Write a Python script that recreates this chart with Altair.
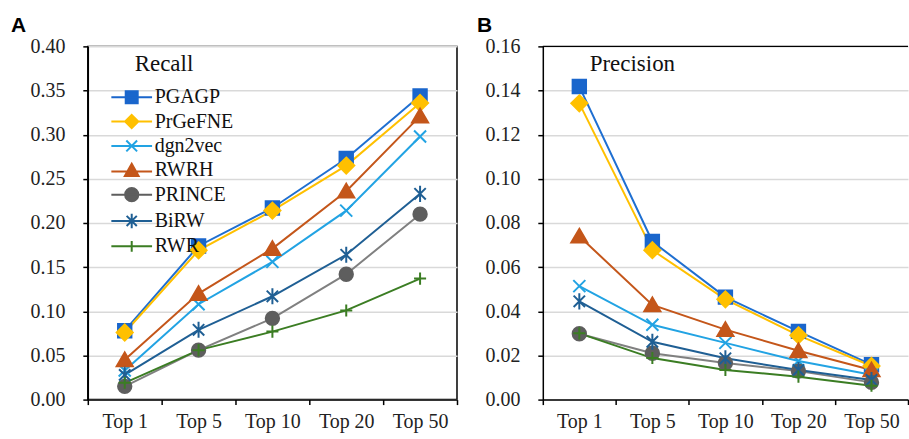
import altair as alt
import pandas as pd

categories = ["Top 1", "Top 5", "Top 10", "Top 20", "Top 50"]
methods = ["PGAGP", "PrGeFNE", "dgn2vec", "RWRH", "PRINCE", "BiRW", "RWR"]

# Recall (panel A)
recall_pgagp = [0.078, 0.174, 0.217, 0.273, 0.344]
recall_prgefne = [0.076, 0.169, 0.214, 0.265, 0.336]
recall_dgn2vec = [0.033, 0.108, 0.156, 0.214, 0.298]
recall_rwrh = [0.045, 0.120, 0.171, 0.236, 0.321]
recall_prince = [0.015, 0.056, 0.092, 0.142, 0.210]
recall_birw = [0.028, 0.079, 0.117, 0.164, 0.233]
recall_rwr = [0.019, 0.056, 0.077, 0.101, 0.137]

# Precision (panel B)
precision_pgagp = [0.1418, 0.0716, 0.0464, 0.0309, 0.0158]
precision_prgefne = [0.1342, 0.0677, 0.0454, 0.0291, 0.0152]
precision_dgn2vec = [0.0514, 0.0339, 0.0257, 0.0175, 0.0113]
precision_rwrh = [0.0740, 0.0429, 0.0317, 0.0221, 0.0134]
precision_prince = [0.0298, 0.0210, 0.0166, 0.0129, 0.0078]
precision_birw = [0.0445, 0.0262, 0.0187, 0.0134, 0.0089]
precision_rwr = [0.0300, 0.0188, 0.0134, 0.0104, 0.0063]

line_colors = ["#1f6fd1", "#ffc000", "#22a3e3", "#c4561a", "#808080", "#1f5f94", "#3b7d23"]
marker_colors = ["#1a66cc", "#ffc000", "#22a3e3", "#c4561a", "#5e5e5e", "#1f5f94", "#3b7d23"]

marker_paths = [
    "M-1,-1L1,-1L1,1L-1,1Z",
    "M0,-1.2L1.2,0L0,1.2L-1.2,0Z",
    "M-0.9,-0.9L0.9,0.9M-0.9,0.9L0.9,-0.9",
    "M0,-1.1L1.2,0.95L-1.2,0.95Z",
    "circle",
    "M-0.85,-0.85L0.85,0.85M-0.85,0.85L0.85,-0.85M0,-1.2L0,1.2",
    "M-0.9,0L0.9,0M0,-0.9L0,0.9",
]
legend_paths = [
    "M-3.4,0L3.4,0M-1,-1L1,-1L1,1L-1,1Z",
    "M-3.4,0L3.4,0M0,-1.1L1.1,0L0,1.1L-1.1,0Z",
    "M-3.4,0L3.4,0M-0.9,-0.9L0.9,0.9M-0.9,0.9L0.9,-0.9",
    "M-3.4,0.2L3.4,0.2M0,-1.1L1.15,0.95L-1.15,0.95Z",
    "M-3.4,0L3.4,0M1.1,0A1.1,1.1 0 1,1 -1.1,0A1.1,1.1 0 1,1 1.1,0Z",
    "M-3.4,0L3.4,0M-0.85,-0.85L0.85,0.85M-0.85,0.85L0.85,-0.85M0,-1.2L0,1.2",
    "M-3.4,0L3.4,0M0,-0.9L0,0.9",
]

recall_series = [recall_pgagp, recall_prgefne, recall_dgn2vec, recall_rwrh,
                 recall_prince, recall_birw, recall_rwr]
precision_series = [precision_pgagp, precision_prgefne, precision_dgn2vec, precision_rwrh,
                    precision_prince, precision_birw, precision_rwr]


def make_df(series):
    rows = []
    for i, (m, vals) in enumerate(zip(methods, series)):
        for c, v in zip(categories, vals):
            rows.append({"method": m, "Method": m, "idx": i, "cat": c, "value": v})
    return pd.DataFrame(rows)


SERIF = "Liberation Serif"


def panel(series, ymax, step, letter, name, with_legend, width, dx):
    df = make_df(series)
    x = alt.X("cat:N", sort=categories,
              scale=alt.Scale(type="band", domain=categories, paddingInner=0, paddingOuter=0),
              axis=alt.Axis(title=None, tickBand="extent", grid=False, labelPadding=7,
                            labelAngle=0))
    tick_vals = [round(i * step, 4) for i in range(int(round(ymax / step)) + 1)]
    y = alt.Y("value:Q", scale=alt.Scale(domain=[0, ymax], nice=False, zero=True),
              axis=alt.Axis(title=None, values=tick_vals, format=".2f", grid=True,
                            labelPadding=18))
    base = alt.Chart(df)
    lines = base.mark_line(strokeWidth=2).encode(
        x=x, y=y,
        color=alt.Color("method:N", scale=alt.Scale(domain=methods, range=line_colors), legend=None),
        detail="method:N",
    )
    points = base.mark_point(filled=False, size=180, strokeWidth=2, opacity=1).encode(
        x=x, y=y,
        fill=alt.Fill("method:N", scale=alt.Scale(domain=methods, range=marker_colors), legend=None),
        stroke=alt.Stroke("method:N", scale=alt.Scale(domain=methods, range=marker_colors), legend=None),
        shape=alt.Shape("method:N", scale=alt.Scale(domain=methods, range=marker_paths), legend=None),
        order=alt.Order("idx:Q"),
    )
    name_df = pd.DataFrame({"t": [name]})
    label = alt.Chart(name_df).mark_text(
        font=SERIF, fontSize=23, align="left", baseline="middle", color="#111"
    ).encode(text="t:N", x=alt.value(47), y=alt.value(18))
    layers = [lines, points, label]
    if not with_legend:
        top = alt.Chart(name_df).mark_rule(color="black", strokeWidth=1.5).encode(
            y=alt.datum(ymax))
        layers.append(top)
    if with_legend:
        leg = alt.Legend(orient="none", legendX=34, legendY=41, title=None,
                         labelFont=SERIF, labelFontSize=20, labelColor="#111",
                         symbolSize=144, symbolStrokeWidth=2, rowPadding=3.4,
                         labelOffset=13)
        legend_layer = base.transform_filter("false").mark_point(
            filled=False, size=144, strokeWidth=2, opacity=1).encode(
            x=x, y=y,
            fill=alt.Fill("Method:N", scale=alt.Scale(domain=methods, range=marker_colors), legend=leg),
            stroke=alt.Stroke("Method:N", scale=alt.Scale(domain=methods, range=marker_colors), legend=leg),
            shape=alt.Shape("Method:N", scale=alt.Scale(domain=methods, range=legend_paths), legend=leg),
        )
        layers.append(legend_layer)
    view = alt.ViewBackground(stroke="black", strokeWidth=1.5) if with_legend else alt.ViewBackground(stroke=None)
    return alt.layer(*layers).resolve_scale(
        fill="independent", stroke="independent", shape="independent"
    ).properties(
        width=width, height=354, view=view,
        title=alt.TitleParams(letter, anchor="start", frame="group", dx=dx,
                              font="Liberation Sans", fontSize=21, fontWeight="bold",
                              color="black", offset=0),
    )


left = panel(recall_series, 0.40, 0.05, "A", "Recall", True, 370, -77)
right = panel(precision_series, 0.16, 0.02, "B", "Precision", False, 366, -66)

chart = alt.hconcat(left, right, spacing=18).resolve_scale(
    color="independent", fill="independent", stroke="independent", shape="independent"
).properties(
    padding={"left": 10, "top": 14, "right": 0, "bottom": 0},
    background="white",
).configure_axis(
    labelFont=SERIF, labelFontSize=20, labelColor="#222",
    domainColor="black", domainWidth=1.5, tickColor="black", tickWidth=1.5, tickSize=5,
    gridColor="#d9d9d9", gridWidth=1.5,
).configure_title(anchor="start")

chart.save("out.html", embed_options={"renderer": "svg", "actions": False})
